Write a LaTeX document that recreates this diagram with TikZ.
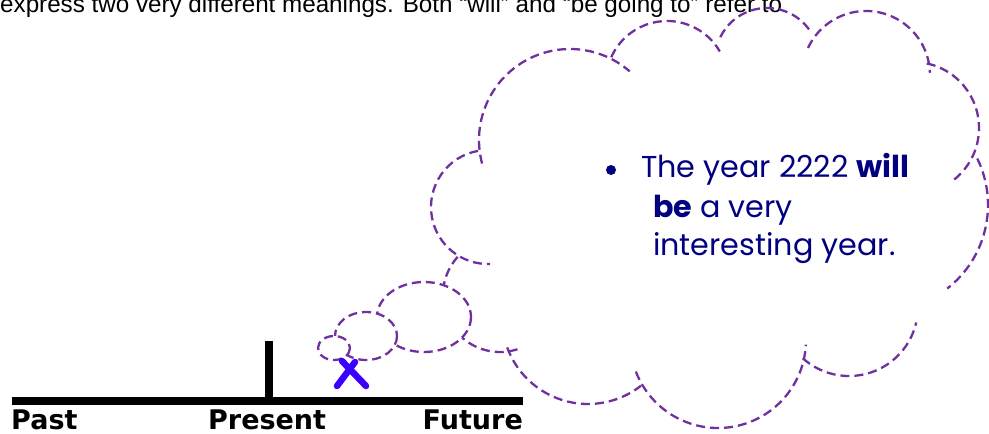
\documentclass[tikz,border=0pt]{standalone}
\usepackage{fontspec}
\usepackage{tikz}
\newfontfamily\arialfont{Liberation Sans}
\newfontfamily\timefont{DejaVu Sans}
\newfontfamily\gothicfont{Poppins}
\definecolor{cloudpurple}{HTML}{7030A0}
\definecolor{thoughtnavy}{HTML}{000080}
\definecolor{markblue}{HTML}{3A00FF}

\begin{document}
\begin{tikzpicture}[x=1pt,y=-1pt,
  axis/.style={line width=7.5pt,line cap=butt},
  tlabel/.style={inner sep=0,font=\timefont\bfseries\fontsize{27}{30}\selectfont},
  puff/.style={cloudpurple,line width=2.3pt,dash pattern=on 9pt off 5pt},
  bubble/.style={puff,fill=white},
  xmark/.style={markblue,line width=6.5pt,line cap=round},
  thoughtline/.style={inner sep=0,anchor=base west,text=thoughtnavy,font=\gothicfont\fontsize{30.2}{36}\selectfont}]
\useasboundingbox (0,0) rectangle (989,434);
% text line cut at the top
\node[anchor=base west,inner sep=0,font=\arialfont\fontsize{24.2}{29}\selectfont] (intro) at (0,12)
  {express two very different meanings. Both “will” and “be going to” refer to};
% time line
\coordinate (past) at (12,401);
\coordinate (future) at (523,401);
\coordinate (now) at (269,401);
\coordinate (nowtop) at (269,341);
\draw[axis] (past) -- (future);
\draw[axis] (now) -- (nowtop);
\node[tlabel,anchor=base west] (pastlbl) at (11,429) {Past};
\node[tlabel,anchor=base west] (presentlbl) at (208,429) {Present};
\node[tlabel,anchor=base east] (futurelbl) at (523,429) {Future};
% cloud lobes: centre x / centre y / radius / from / to
\foreach \cx/\cy/\r/\a/\b in %
{488/207/57/260/88, 570/140/91/165/311, 667/82/61/204/330,
 767/60/52/206/328, 866/75/64/205/358, 913/128/66/282/414,
 882/205/106/-26/52, 849/307/69/132/13, 718/340/88/159/3,
 588/318/86/160/52, 500/295/57/222/71} {
   \draw[puff] (\cx,\cy) ++(\a:\r) arc[start angle=\a,end angle=\b,radius=\r];
}
% thought bubbles
\draw[bubble] (424,317) ellipse [x radius=47,y radius=35];
\draw[bubble] (366,336) ellipse [x radius=31,y radius=24];
\draw[bubble] (334,348) ellipse [x radius=16,y radius=12];
% the mark
\draw[xmark] (342,361) -- (366,386);
\draw[xmark] (337,386) -- (355,362);
% text in the cloud
\fill[thoughtnavy] (611,170) circle [radius=5];
\node[thoughtline] (line1) at (641,177) {The year 2222 \textbf{will}};
\node[thoughtline] (line2) at (653,217) {\textbf{be} a very};
\node[thoughtline] (line3) at (653,255) {interesting year.};
\end{tikzpicture}
\end{document}
